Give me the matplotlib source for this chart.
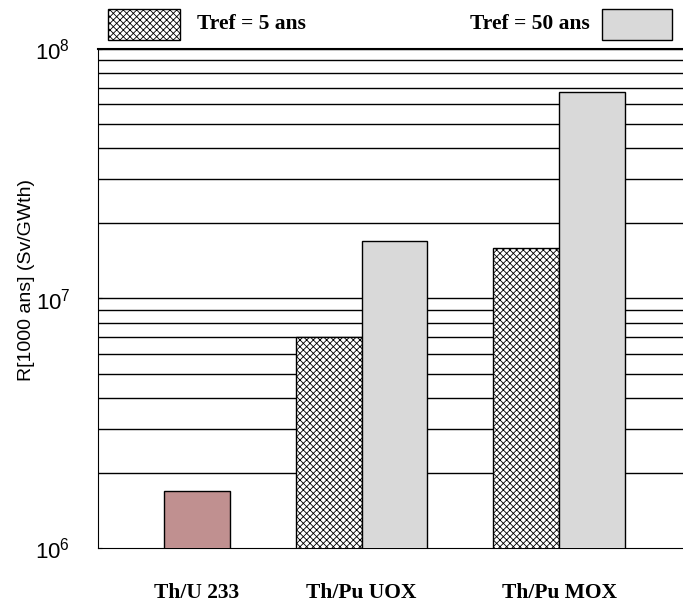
import numpy as np
import matplotlib.pyplot as plt
from matplotlib.patches import Rectangle

categories = ['Th/U 233', 'Th/Pu UOX', 'Th/Pu MOX']
thu233 = 1.7e6            # single bar, Th/U 233
tref5 = [7.0e6, 1.6e7]    # Th/Pu UOX, Th/Pu MOX
tref50 = [1.7e7, 6.7e7]

plt.rcParams['hatch.linewidth'] = 0.6
plt.rcParams['mathtext.fontset'] = 'custom'
plt.rcParams['mathtext.rm'] = 'Liberation Sans'
HATCH = 'xxxxx'

fig = plt.figure(figsize=(6.83, 6.04), dpi=100)
ax = fig.add_axes([0.1435, 0.0927, 0.8565, 0.8262])
ax.set_yscale('log')
ax.set_ylim(1e6, 1e8)
ax.set_xlim(0, 8.88)

# horizontal lines at every decade sub-step
for dec in [1e6, 1e7]:
    for k in range(2, 11):
        ax.axhline(k * dec, color='black', lw=1.0, zorder=1)

ax.bar(1.5, thu233, width=1.0, color='#c09090', edgecolor='black', lw=1, zorder=3)
ax.bar([3.5, 6.5], tref5, width=1.0, color='white', edgecolor='black',
       hatch=HATCH, lw=1, zorder=3)
ax.bar([4.5, 7.5], tref50, width=1.0, color='#d9d9d9', edgecolor='black', lw=1, zorder=3)

ax.set_xticks([1.5, 4.0, 7.0])
ax.set_xticklabels(categories, family='Liberation Serif', fontweight='bold', fontsize=15.5)
ax.tick_params(axis='x', length=0, pad=25)
ax.set_yticks([1e6, 1e7, 1e8])
ax.set_yticklabels(['$\\mathrm{10^6}$', '$\\mathrm{10^7}$', '$\\mathrm{10^8}$'], fontsize=16)
ax.yaxis.set_minor_locator(plt.NullLocator())
ax.tick_params(axis='y', length=3, direction='in', pad=20)
ax.set_ylabel('R[1000 ans] (Sv/GWth)', family='Liberation Sans', fontsize=14)
ax.yaxis.set_label_coords(-0.108, 0.537)
ax.spines['right'].set_visible(False)
ax.spines['top'].set_linewidth(1.5)

# legend at the top
fig.add_artist(Rectangle((108/683, 1-40/604), 72/683, 31/604, transform=fig.transFigure,
                         facecolor='white', edgecolor='black', hatch=HATCH, lw=1))
fig.text(197/683, 1-24/604, 'Tref = 5 ans', family='Liberation Serif',
         fontweight='bold', fontsize=15.5, va='center')
fig.text(590/683, 1-24/604, 'Tref = 50 ans', family='Liberation Serif',
         fontweight='bold', fontsize=15.5, va='center', ha='right')
fig.add_artist(Rectangle((602/683, 1-40/604), 70/683, 31/604, transform=fig.transFigure,
                         facecolor='#d9d9d9', edgecolor='black', lw=1))

fig.savefig('out.png', dpi=100)
